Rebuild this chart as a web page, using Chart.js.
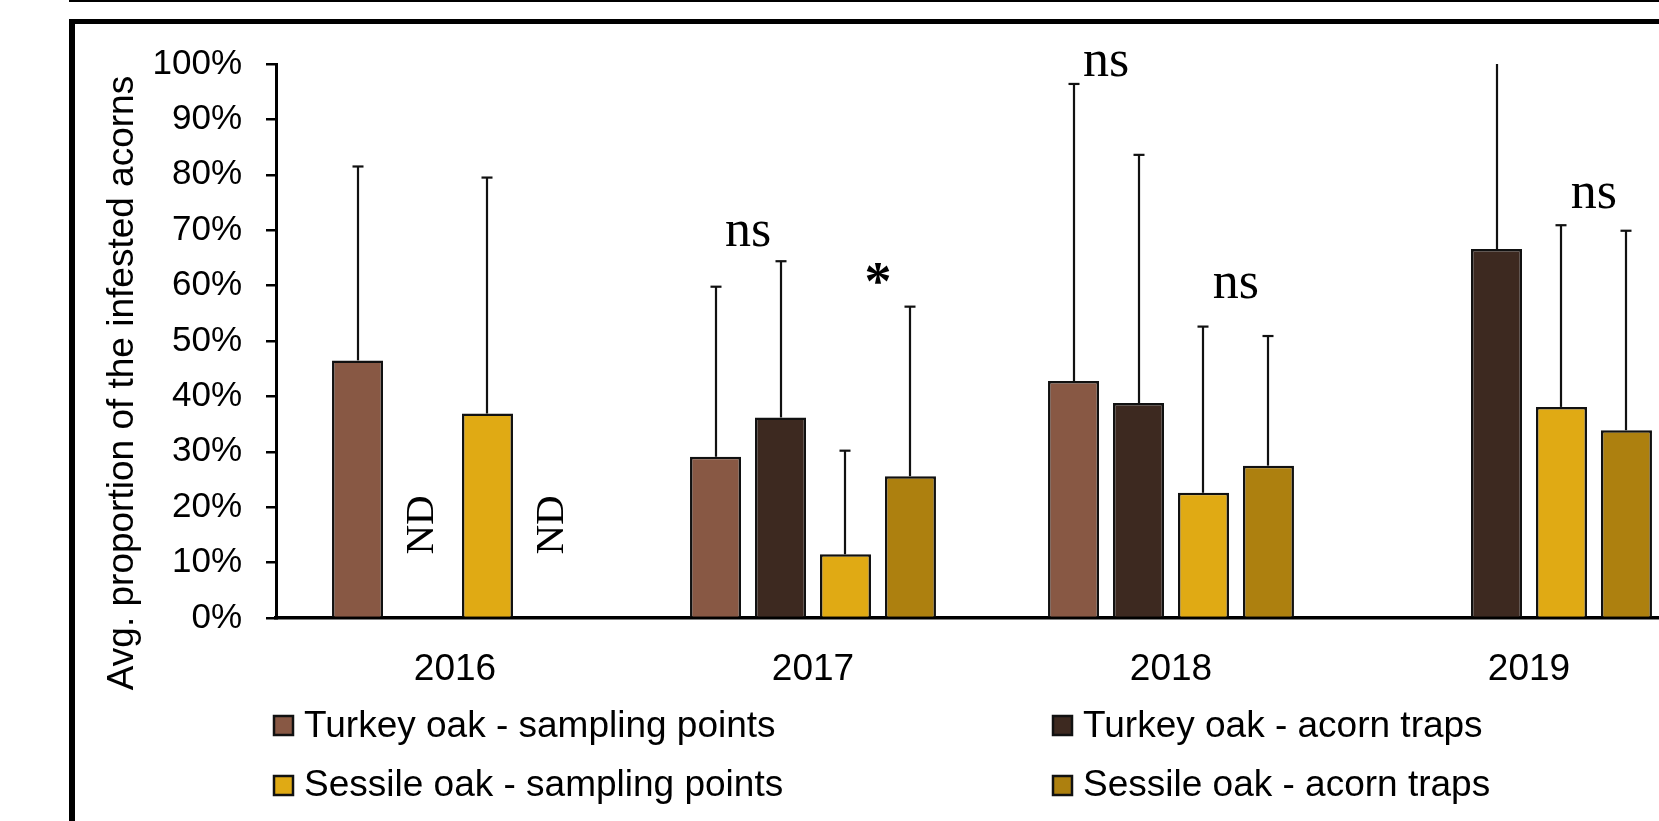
<!DOCTYPE html>
<html>
<head>
<meta charset="utf-8">
<script src="https://cdn.jsdelivr.net/npm/chart.js@4.4.1/dist/chart.umd.min.js"></script>
<style>
  html, body { margin: 0; padding: 0; background: #fff; overflow: hidden; width: 1659px; height: 821px; }
  #topRule { position: absolute; left: 69px; top: 0; width: 1700px; height: 2px; background: #000; }
  #frame { position: absolute; left: 69px; top: 19px; width: 1700px; height: 900px;
           border-left: 6px solid #000; border-top: 5px solid #000; }
  #wrap { position: absolute; left: 0; top: 0; width: 1760px; height: 821px; }
</style>
</head>
<body>
<div id="topRule"></div>
<div id="frame"></div>
<div id="wrap"><canvas id="chart" width="1760" height="821"></canvas></div>
<script>
// Years on the category axis
const years = ['2016', '2017', '2018', '2019'];

// Mean proportion of infested acorns (%) per series and year; null = no data
const turkeySampling = [46.5, 29.1, 42.8, null];
const turkeyTraps    = [null, 36.2, 38.8, 66.6];
const sessileSampling = [36.9, 11.5, 22.6, 38.1];
const sessileTraps    = [null, 25.6, 27.5, 33.9];

// Standard deviations (%) drawn as upper error bars
const turkeySamplingSD  = [35.0, 30.7, 53.6, null];
const turkeyTrapsSD     = [null, 28.2, 44.8, 36.0];
const sessileSamplingSD = [42.6, 18.7, 30.0, 32.8];
const sessileTrapsSD    = [null, 30.6, 23.4, 36.0];

// Series names and fills
const seriesNames = [
  'Turkey oak - sampling points',
  'Turkey oak - acorn traps',
  'Sessile oak - sampling points',
  'Sessile oak - acorn traps'
];
const seriesColors = ['#885844', '#3d2920', '#e0aa14', '#ad800f'];

// y-axis tick values
const yTicks = [0, 10, 20, 30, 40, 50, 60, 70, 80, 90, 100];

// Significance marks: year index, pair of series compared, height (%) and text
const sigYear   = [1, 1, 2, 2, 3];
const sigPairA  = [0, 2, 0, 2, 2];
const sigPairB  = [1, 3, 1, 3, 3];
const sigHeight = [67.1, 57.6, 97.8, 57.8, 74.0];
const sigText   = ['ns', '*', 'ns', 'ns', 'ns'];

// "ND" (no data) marks: year index, series index, height (%) of label centre
const ndYear   = [0, 0];
const ndSeries = [1, 3];
const ndHeight = [16.8, 16.8];

const seriesValues = [turkeySampling, turkeyTraps, sessileSampling, sessileTraps];
const seriesSD = [turkeySamplingSD, turkeyTrapsSD, sessileSamplingSD, sessileTrapsSD];

const SANS = '"Liberation Sans", Arial, sans-serif';
const SERIF = '"Liberation Serif", "Times New Roman", serif';

// Upper error bars with caps (cap omitted when clipped at the top of the axis)
const errorBars = {
  id: 'errorBars',
  afterDatasetsDraw(chart) {
    const ctx = chart.ctx;
    const ys = chart.scales.y;
    ctx.save();
    ctx.strokeStyle = '#111';
    ctx.lineWidth = 2.2;
    chart.data.datasets.forEach((ds, i) => {
      const meta = chart.getDatasetMeta(i);
      meta.data.forEach((bar, j) => {
        const v = ds.data[j];
        const sd = seriesSD[i][j];
        if (v == null || sd == null) return;
        const top = v + sd;
        const x = Math.round(bar.x);
        const yEnd = ys.getPixelForValue(Math.min(top, ys.max));
        ctx.beginPath();
        ctx.moveTo(x, bar.y);
        ctx.lineTo(x, yEnd);
        ctx.stroke();
        if (top <= ys.max) {
          ctx.beginPath();
          ctx.moveTo(x - 5.5, yEnd);
          ctx.lineTo(x + 5.5, yEnd);
          ctx.stroke();
        }
      });
    });
    ctx.restore();
  }
};

// Significance labels, ND labels, rotated y title and the two-column legend
const decorations = {
  id: 'decorations',
  afterDraw(chart) {
    const ctx = chart.ctx;
    const ys = chart.scales.y;
    ctx.save();
    ctx.fillStyle = '#000';

    // significance marks
    ctx.textAlign = 'center';
    ctx.textBaseline = 'alphabetic';
    sigText.forEach((t, k) => {
      const a = chart.getDatasetMeta(sigPairA[k]).data[sigYear[k]];
      const b = chart.getDatasetMeta(sigPairB[k]).data[sigYear[k]];
      const x = (a.x + b.x) / 2;
      const y = ys.getPixelForValue(sigHeight[k]);
      ctx.font = (t === '*' ? 'bold 54px ' : '52px ') + SERIF;
      ctx.fillText(t, x, y);
    });

    // ND marks
    ctx.font = '41px ' + SERIF;
    ctx.textBaseline = 'middle';
    ndYear.forEach((yi, k) => {
      const bar = chart.getDatasetMeta(ndSeries[k]).data[yi];
      const y = ys.getPixelForValue(ndHeight[k]);
      ctx.save();
      ctx.translate(bar.x, y);
      ctx.rotate(-Math.PI / 2);
      ctx.fillText('ND', 0, 0);
      ctx.restore();
    });

    // y-axis title
    ctx.save();
    ctx.font = '37px ' + SANS;
    ctx.textAlign = 'center';
    ctx.textBaseline = 'alphabetic';
    ctx.translate(133, 383);
    ctx.rotate(-Math.PI / 2);
    ctx.fillText('Avg. proportion of the infested acorns', 0, 0);
    ctx.restore();

    // legend
    const colX = [274, 1053];
    const rowTop = [716, 776];
    const rowBase = [737, 796];
    ctx.font = '37px ' + SANS;
    ctx.textAlign = 'left';
    ctx.textBaseline = 'alphabetic';
    seriesNames.forEach((name, i) => {
      const c = i % 2, r = Math.floor(i / 2);
      ctx.fillStyle = seriesColors[i];
      ctx.fillRect(colX[c], rowTop[r], 19, 19);
      ctx.strokeStyle = '#111';
      ctx.lineWidth = 2.5;
      ctx.strokeRect(colX[c], rowTop[r], 19, 19);
      ctx.fillStyle = '#000';
      ctx.fillText(name, colX[c] + 30, rowBase[r]);
    });
    ctx.restore();
  }
};

new Chart(document.getElementById('chart'), {
  type: 'bar',
  data: {
    labels: years,
    datasets: seriesNames.map((name, i) => ({
      label: name,
      data: seriesValues[i],
      backgroundColor: seriesColors[i],
      borderColor: '#111',
      borderWidth: 2.5,
      categoryPercentage: 0.726,
      barPercentage: 0.785
    }))
  },
  options: {
    responsive: false,
    animation: false,
    devicePixelRatio: 1,
    layout: { padding: { left: 0, top: 64, right: 52, bottom: 0 } },
    plugins: { legend: { display: false }, tooltip: { enabled: false } },
    scales: {
      x: {
        grid: { display: true, drawOnChartArea: false, drawTicks: false },
        border: { display: true, color: '#000', width: 3.5 },
        ticks: { color: '#000', font: { family: SANS, size: 37 }, padding: 30, maxRotation: 0 },
        afterFit(scale) { scale.height = 203; }
      },
      y: {
        min: 0,
        max: 100,
        afterBuildTicks(scale) { scale.ticks = yTicks.map(v => ({ value: v })); },
        grid: { drawOnChartArea: false, drawTicks: true, tickLength: 10, color: '#000', lineWidth: 2.5 },
        border: { display: true, color: '#000', width: 3 },
        ticks: { color: '#000', font: { family: SANS, size: 35 }, padding: 24, callback: v => v + '%' },
        afterFit(scale) { scale.width = 276; }
      }
    }
  },
  plugins: [errorBars, decorations]
});
</script>
</body>
</html>
